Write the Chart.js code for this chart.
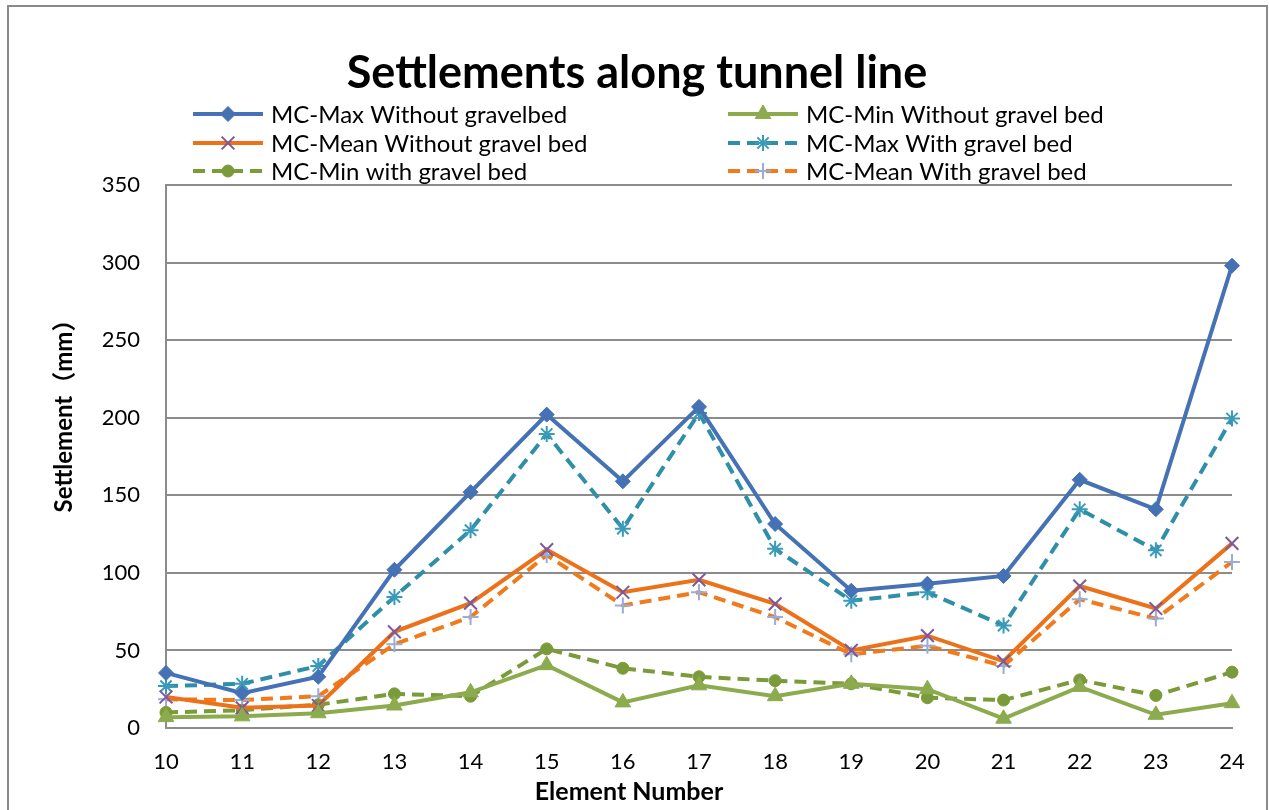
<!DOCTYPE html>
<html>
<head>
<meta charset="utf-8">
<title>Settlements along tunnel line</title>
<script src="https://cdn.jsdelivr.net/npm/chart.js@4.4.1/dist/chart.umd.min.js"></script>
<style>
  html, body { margin: 0; padding: 0; background: #ffffff; }
  #wrap { width: 1269px; height: 810px; position: relative; }
</style>
</head>
<body>
<div id="wrap"><canvas id="chart" width="1269" height="810"></canvas></div>
<script>
// Element numbers along the tunnel
const elements = [10, 11, 12, 13, 14, 15, 16, 17, 18, 19, 20, 21, 22, 23, 24];

// Settlement (mm) per element
const maxWithout  = [35.5, 22.5, 33, 102, 152, 202, 159, 207, 131.5, 88.5, 93, 98, 160, 141, 298];
const minWithout  = [7, 7.5, 9.5, 14.5, 23, 40.5, 16.5, 27.5, 20.5, 28.5, 25, 6, 26.5, 8.5, 16];
const meanWithout = [20, 13, 14.5, 62, 80.5, 115, 87.5, 95.5, 80, 50, 59.5, 43, 91.5, 77, 119];
const maxWith     = [27, 28.5, 40, 84.5, 127.5, 189.5, 128.5, 203, 115.5, 82, 87.5, 66, 141, 114.5, 199.5];
const minWith     = [10, 11.5, 15, 22, 20.5, 51, 38.5, 33, 30.5, 28.5, 19.5, 18, 31, 21, 36];
const meanWith    = [18.5, 18, 20.5, 54, 71.5, 111.5, 79, 87.5, 71.5, 47.5, 53, 40, 83, 70.5, 107];

const yTicks = [0, 50, 100, 150, 200, 250, 300, 350];

const chartTitle = 'Settlements along tunnel line';
const xTitle = 'Element Number';
const yTitle = 'Settlement（mm）';

const FONT = 'Lato, "Noto Sans CJK SC", "DejaVu Sans", sans-serif';
const GRID = '#8c8c8c';
const DASH = [12, 7];

const datasets = [
  { label: 'MC-Max Without gravelbed', data: maxWithout, borderColor: '#4572b4', borderDash: [],
    pointStyle: 'rectRot', pointRadius: 7.5, pointBackgroundColor: '#4572b4', pointBorderColor: '#4572b4', pointBorderWidth: 1 },
  { label: 'MC-Min Without gravel bed', data: minWithout, borderColor: '#8cab4f', borderDash: [],
    pointStyle: 'triangle', pointRadius: 9, pointBackgroundColor: '#8cab4f', pointBorderColor: '#8cab4f', pointBorderWidth: 1 },
  { label: 'MC-Mean Without gravel bed', data: meanWithout, borderColor: '#ec7118', borderDash: [],
    pointStyle: 'crossRot', pointRadius: 9, pointBackgroundColor: '#7a5a9e', pointBorderColor: '#7a5a9e', pointBorderWidth: 2 },
  { label: 'MC-Max With gravel bed', data: maxWith, borderColor: '#2f8fa8', borderDash: DASH,
    pointStyle: 'star', pointRadius: 8, pointBackgroundColor: '#3a9bb8', pointBorderColor: '#3a9bb8', pointBorderWidth: 2 },
  { label: 'MC-Min with gravel bed', data: minWith, borderColor: '#7b9b3b', borderDash: DASH,
    pointStyle: 'circle', pointRadius: 6, pointBackgroundColor: '#7b9b3b', pointBorderColor: '#7b9b3b', pointBorderWidth: 1 },
  { label: 'MC-Mean With gravel bed', data: meanWith, borderColor: '#f07a1c', borderDash: DASH,
    pointStyle: 'cross', pointRadius: 8, pointBackgroundColor: '#97aedb', pointBorderColor: '#97aedb', pointBorderWidth: 2 }
].map(d => Object.assign({
  borderWidth: 4,
  fill: false,
  tension: 0,
  pointHoverRadius: d.pointRadius
}, d));

// Chart frame, heading, axis titles and the two-column key
const decorations = {
  id: 'decorations',
  beforeDraw(chart) {
    const ctx = chart.ctx;
    ctx.save();
    ctx.fillStyle = '#ffffff';
    ctx.fillRect(0, 0, chart.width, chart.height);
    ctx.restore();
  },
  afterDraw(chart) {
    const ctx = chart.ctx;
    ctx.save();
    // outer frame
    ctx.strokeStyle = '#8a8a8a';
    ctx.lineWidth = 2;
    ctx.strokeRect(8, 6, 1259, 820);

    // heading
    ctx.fillStyle = '#000000';
    ctx.font = 'bold 45px ' + FONT;
    ctx.textAlign = 'center';
    ctx.textBaseline = 'alphabetic';
    ctx.fillText(chartTitle, 637, 88);

    // axis titles
    ctx.font = 'bold 25px ' + FONT;
    ctx.textBaseline = 'middle';
    ctx.fillText(xTitle, 629, 792);
    ctx.save();
    ctx.translate(64, 410);
    ctx.rotate(-Math.PI / 2);
    ctx.font = 'bold 24px ' + FONT;
    ctx.fillText(yTitle, 0, 0);
    ctx.restore();

    // key
    const cols = [{ x0: 193, x1: 263, tx: 271 }, { x0: 728, x1: 798, tx: 806 }];
    const rows = [114, 143, 171];
    ctx.font = '24px ' + FONT;
    ctx.textAlign = 'left';
    ctx.textBaseline = 'middle';
    chart.data.datasets.forEach((ds, i) => {
      const c = cols[i % 2];
      const y = rows[Math.floor(i / 2)];
      ctx.save();
      ctx.strokeStyle = ds.borderColor;
      ctx.lineWidth = 4;
      ctx.setLineDash(ds.borderDash);
      ctx.beginPath();
      ctx.moveTo(c.x0, y);
      ctx.lineTo(c.x1, y);
      ctx.stroke();
      ctx.restore();
      ctx.save();
      ctx.fillStyle = ds.pointBackgroundColor;
      ctx.strokeStyle = ds.pointBorderColor;
      ctx.lineWidth = ds.pointBorderWidth;
      Chart.helpers.drawPoint(ctx, {
        pointStyle: ds.pointStyle,
        radius: ds.pointRadius,
        rotation: 0,
        borderWidth: ds.pointBorderWidth
      }, (c.x0 + c.x1) / 2, y);
      ctx.restore();
      ctx.fillStyle = '#000000';
      ctx.fillText(ds.label, c.tx, y + 1);
    });
    ctx.restore();
  }
};

new Chart(document.getElementById('chart'), {
  type: 'line',
  data: { labels: elements.map(String), datasets },
  plugins: [decorations],
  options: {
    responsive: false,
    animation: false,
    layout: { padding: { left: 0, right: 37, top: 185, bottom: 0 } },
    plugins: {
      legend: { display: false },
      title: { display: false },
      tooltip: { enabled: false }
    },
    scales: {
      x: {
        type: 'category',
        offset: false,
        grid: { display: false, drawTicks: false },
        border: { display: true, color: GRID, width: 2 },
        ticks: { color: '#000000', font: { family: FONT, size: 22 }, padding: 21, maxRotation: 0, autoSkip: false },
        afterFit(scale) { scale.height = 82; }
      },
      y: {
        min: 0,
        max: 350,
        afterBuildTicks(scale) { scale.ticks = yTicks.map(v => ({ value: v })); },
        grid: { color: GRID, lineWidth: 2, drawTicks: false },
        border: { display: true, color: GRID, width: 2 },
        ticks: { color: '#000000', font: { family: FONT, size: 22 }, padding: 26 },
        afterFit(scale) { scale.width = 166; }
      }
    }
  }
});
</script>
</body>
</html>
